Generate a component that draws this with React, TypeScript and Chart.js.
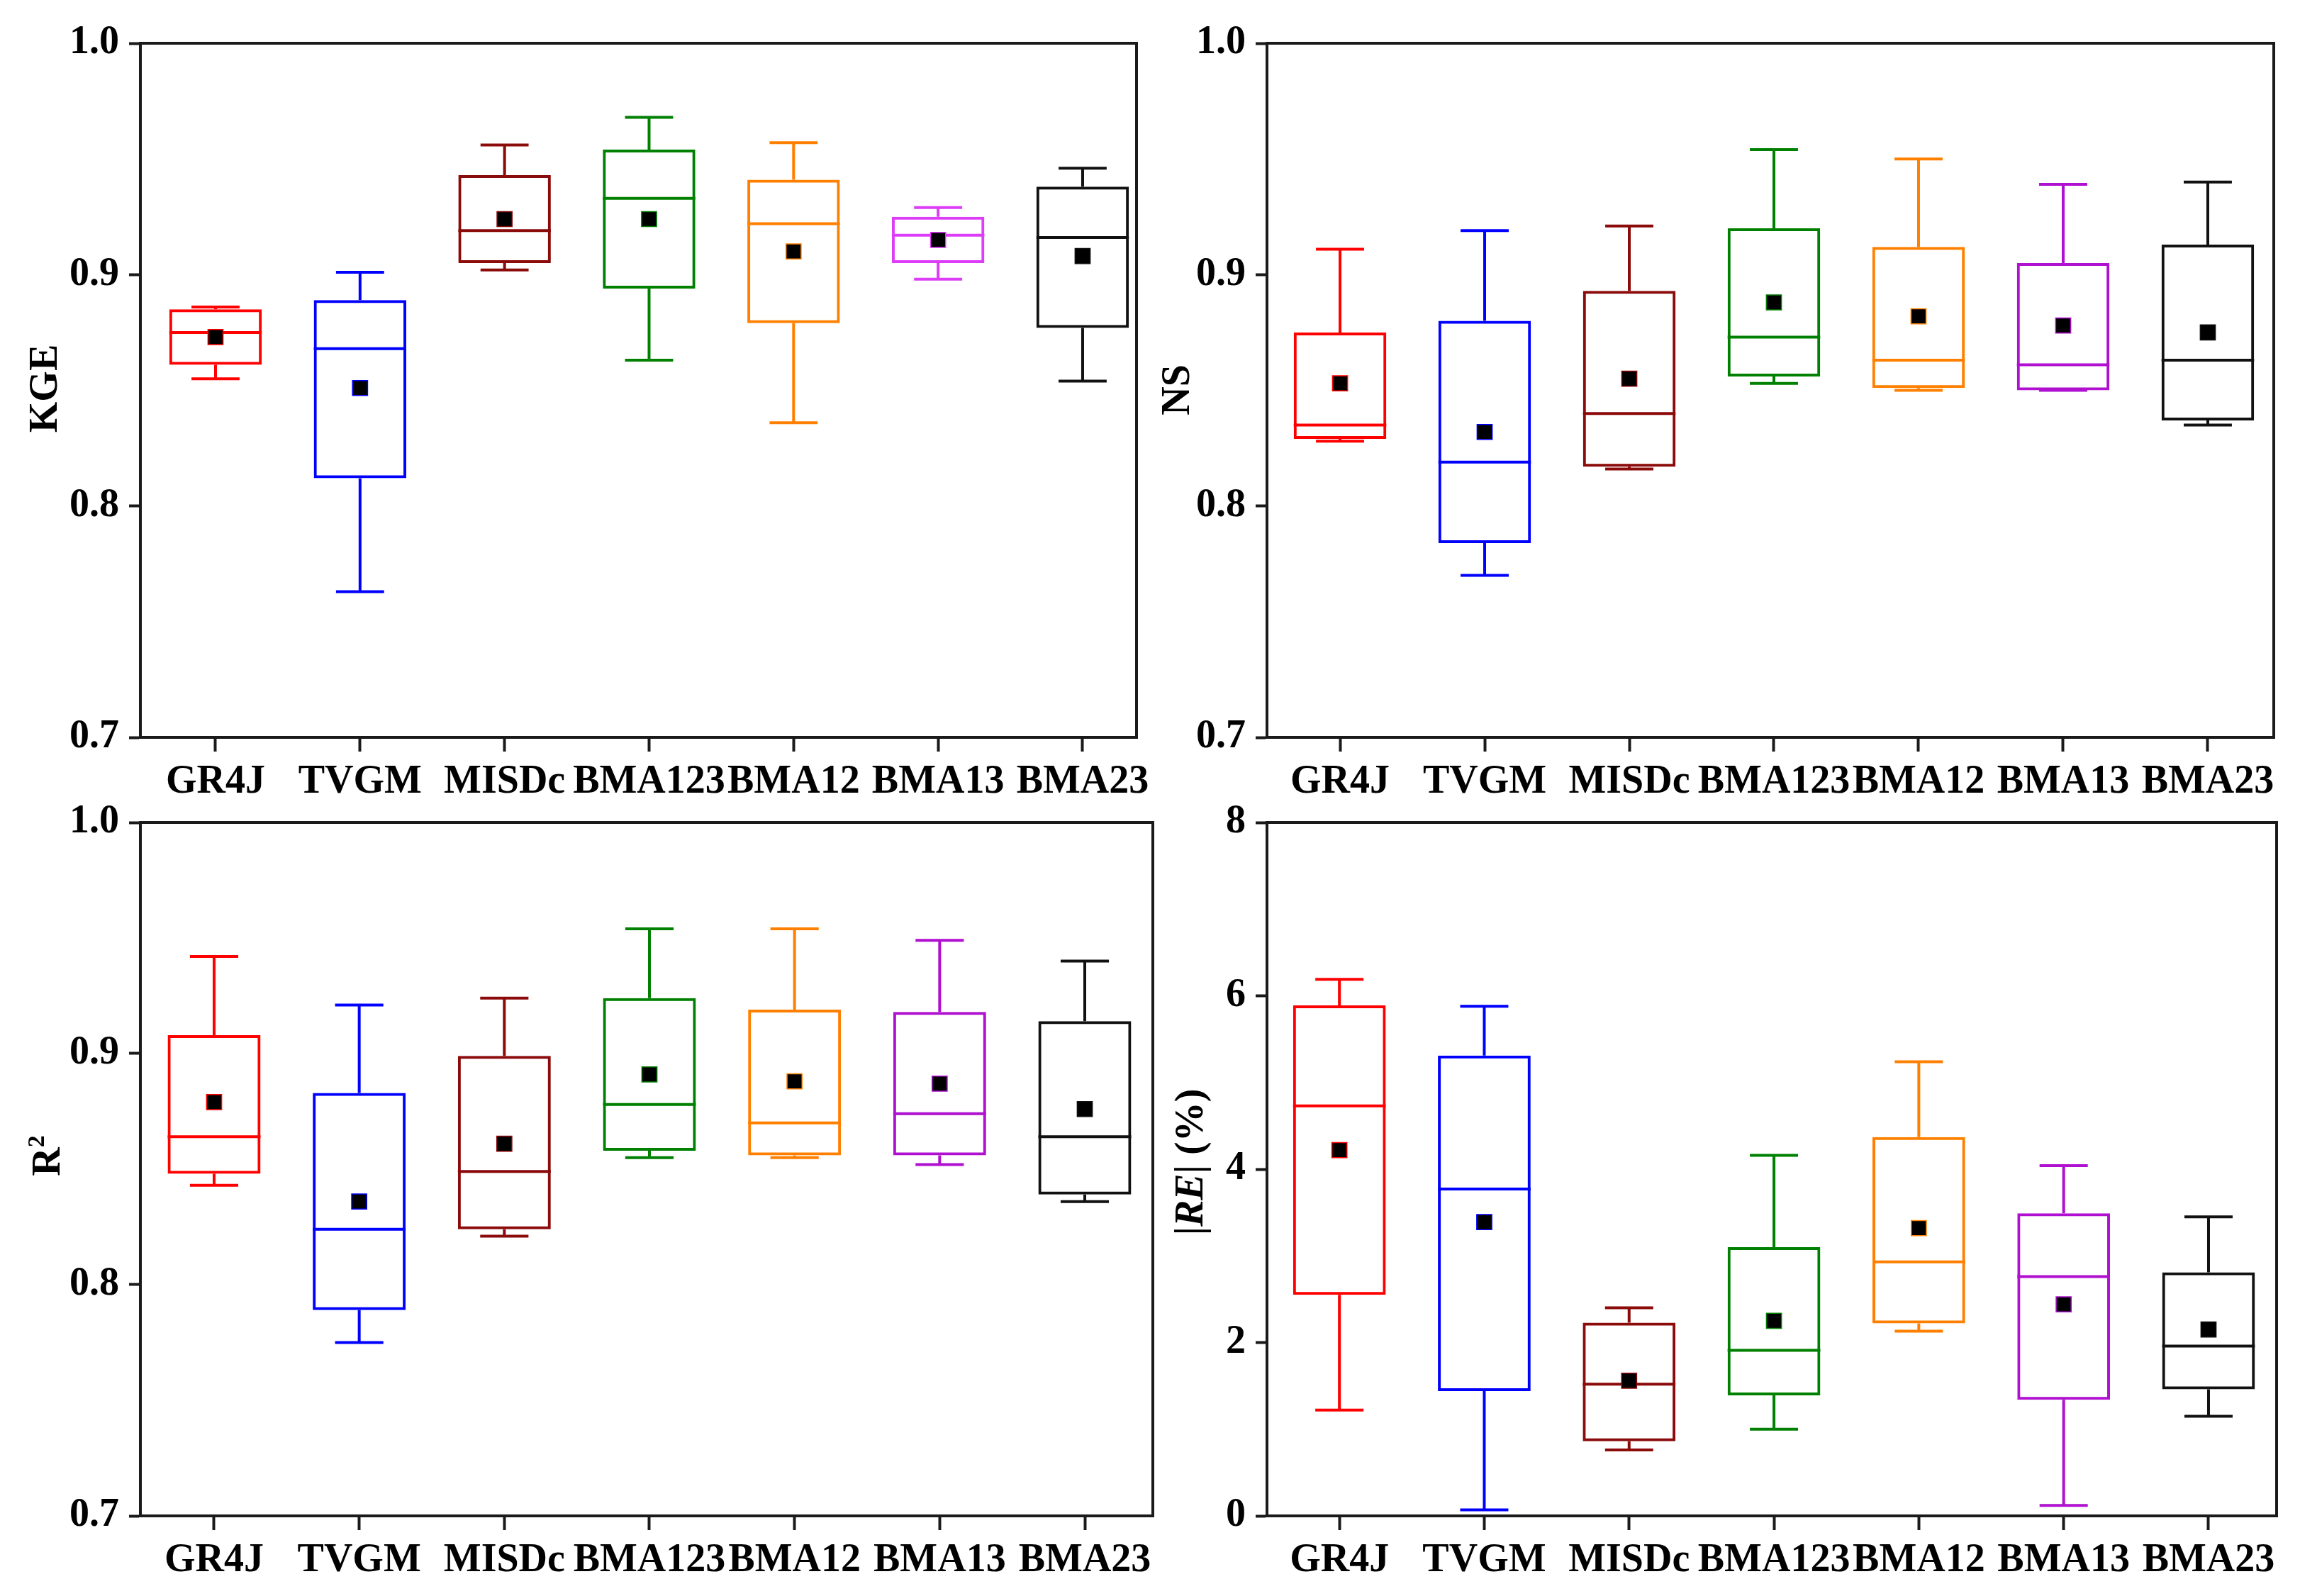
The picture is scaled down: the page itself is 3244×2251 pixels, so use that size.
import React, { useEffect, useRef } from 'react';
import { Chart, registerables } from 'chart.js';

Chart.register(...registerables);

// ---------- data ----------
const categories = ['GR4J', 'TVGM', 'MISDc', 'BMA123', 'BMA12', 'BMA13', 'BMA23'];

const colorsKGE = ['#FF0000', '#0000FF', '#8B0A0A', '#008000', '#FF8000', '#DD3CF8', '#111111'];
const colorsOther = ['#FF0000', '#0000FF', '#8B0A0A', '#008000', '#FF8000', '#B010D0', '#111111'];

const unitTicks = [0.7, 0.8, 0.9, 1.0];
const reTicks = [0, 2, 4, 6, 8];

const kgeMin = [0.855, 0.763, 0.902, 0.863, 0.836, 0.898, 0.854];
const kgeQ1 = [0.861, 0.812, 0.905, 0.894, 0.879, 0.905, 0.877];
const kgeMedian = [0.875, 0.868, 0.919, 0.933, 0.922, 0.917, 0.916];
const kgeQ3 = [0.885, 0.889, 0.943, 0.954, 0.941, 0.925, 0.938];
const kgeMax = [0.886, 0.901, 0.956, 0.968, 0.957, 0.929, 0.946];
const kgeMean = [0.873, 0.851, 0.924, 0.924, 0.910, 0.915, 0.908];

const nsMin = [0.828, 0.770, 0.816, 0.853, 0.850, 0.850, 0.835];
const nsQ1 = [0.829, 0.784, 0.817, 0.856, 0.851, 0.850, 0.837];
const nsMedian = [0.835, 0.819, 0.840, 0.873, 0.863, 0.861, 0.863];
const nsQ3 = [0.875, 0.880, 0.893, 0.920, 0.912, 0.905, 0.913];
const nsMax = [0.911, 0.919, 0.921, 0.954, 0.950, 0.939, 0.940];
const nsMean = [0.853, 0.832, 0.855, 0.888, 0.882, 0.878, 0.875];

const r2Min = [0.843, 0.775, 0.821, 0.855, 0.855, 0.852, 0.836];
const r2Q1 = [0.848, 0.789, 0.824, 0.858, 0.856, 0.856, 0.839];
const r2Median = [0.864, 0.824, 0.849, 0.878, 0.870, 0.874, 0.864];
const r2Q3 = [0.908, 0.883, 0.899, 0.924, 0.919, 0.918, 0.914];
const r2Max = [0.942, 0.921, 0.924, 0.954, 0.954, 0.949, 0.940];
const r2Mean = [0.879, 0.836, 0.861, 0.891, 0.888, 0.887, 0.876];

const reMin = [1.22, 0.07, 0.76, 1.0, 2.13, 0.12, 1.15];
const reQ1 = [2.55, 1.44, 0.86, 1.39, 2.22, 1.34, 1.46];
const reMedian = [4.73, 3.77, 1.52, 1.91, 2.93, 2.76, 1.96];
const reQ3 = [5.89, 5.31, 2.23, 3.1, 4.37, 3.49, 2.81];
const reMax = [6.19, 5.88, 2.4, 4.16, 5.24, 4.04, 3.45];
const reMean = [4.22, 3.39, 1.56, 2.25, 3.32, 2.44, 2.15];

// ---------- styling ----------
const FONT = '"Liberation Serif", "Times New Roman", serif';
const FONT_SIZE = 56;
const AXIS_COLOR = '#1a1a1a';
const AXIS_W = 4;
const LINE_W = 4;

type Part = { text: string; italic?: boolean; sup?: boolean };

interface PanelSpec {
  canvasX: number;
  canvasY: number;
  canvasW: number;
  canvasH: number;
  area: { left: number; top: number; right: number; bottom: number };
  xMin: number;
  xMax: number;
  yMin: number;
  yMax: number;
  yTicks: number[];
  decimals: number;
  title: Part[];
  titleX: number;
  titleY: number;
  min: number[];
  q1: number[];
  median: number[];
  q3: number[];
  max: number[];
  mean: number[];
  colors: string[];
}

const panels: PanelSpec[] = [
  {
    canvasX: 0, canvasY: 0, canvasW: 1660, canvasH: 1125,
    area: { left: 198, top: 61, right: 1603, bottom: 1040 },
    xMin: 0.48, xMax: 7.373, yMin: 0.7, yMax: 1.0, yTicks: unitTicks, decimals: 1,
    title: [{ text: 'KGE' }], titleX: 66, titleY: 548,
    min: kgeMin, q1: kgeQ1, median: kgeMedian, q3: kgeQ3, max: kgeMax, mean: kgeMean,
    colors: colorsKGE,
  },
  {
    canvasX: 1600, canvasY: 0, canvasW: 1644, canvasH: 1125,
    area: { left: 1787, top: 61, right: 3207, bottom: 1040 },
    xMin: 0.495, xMax: 7.456, yMin: 0.7, yMax: 1.0, yTicks: unitTicks, decimals: 1,
    title: [{ text: 'NS' }], titleX: 1663, titleY: 550,
    min: nsMin, q1: nsQ1, median: nsMedian, q3: nsQ3, max: nsMax, mean: nsMean,
    colors: colorsOther,
  },
  {
    canvasX: 0, canvasY: 1080, canvasW: 1660, canvasH: 1171,
    area: { left: 198, top: 1160, right: 1626, bottom: 2138 },
    xMin: 0.492, xMax: 7.469, yMin: 0.7, yMax: 1.0, yTicks: unitTicks, decimals: 1,
    title: [{ text: 'R' }, { text: '2', sup: true }], titleX: 70, titleY: 1630,
    min: r2Min, q1: r2Q1, median: r2Median, q3: r2Q3, max: r2Max, mean: r2Mean,
    colors: colorsOther,
  },
  {
    canvasX: 1600, canvasY: 1080, canvasW: 1644, canvasH: 1171,
    area: { left: 1787, top: 1160, right: 3211, bottom: 2138 },
    xMin: 0.5, xMax: 7.47, yMin: 0, yMax: 8, yTicks: reTicks, decimals: 0,
    title: [{ text: '|' }, { text: 'RE', italic: true }, { text: '| (%)' }], titleX: 1682, titleY: 1639,
    min: reMin, q1: reQ1, median: reMedian, q3: reQ3, max: reMax, mean: reMean,
    colors: colorsOther,
  },
];

function partFont(p: Part) {
  const size = p.sup ? Math.round(FONT_SIZE * 0.6) : FONT_SIZE;
  return `${p.italic ? 'italic ' : ''}bold ${size}px ${FONT}`;
}

function Panel({ spec }: { spec: PanelSpec }) {
  const ref = useRef<HTMLCanvasElement>(null);

  useEffect(() => {
    const s = spec;
    const canvas = ref.current;
    if (!canvas) return;
    const yAxisW = s.area.left - s.canvasX;
    const xAxisH = s.canvasY + s.canvasH - s.area.bottom;

    const boxPlugin = {
      id: 'boxWhiskers',
      beforeDatasetsDraw(chart: any) {
        const { ctx, scales } = chart;
        const meta = chart.getDatasetMeta(1);
        const ys = scales.y;
        ctx.save();
        ctx.lineWidth = LINE_W;
        ctx.lineCap = 'butt';
        categories.forEach((_, i) => {
          const el = meta.data[i];
          if (!el) return;
          const cx = el.x;
          const bw = el.width;
          const capHalf = bw * 0.26;
          const yMin = ys.getPixelForValue(s.min[i]);
          const yQ1 = ys.getPixelForValue(s.q1[i]);
          const yMed = ys.getPixelForValue(s.median[i]);
          const yQ3 = ys.getPixelForValue(s.q3[i]);
          const yMax = ys.getPixelForValue(s.max[i]);
          ctx.strokeStyle = s.colors[i];
          ctx.beginPath();
          ctx.moveTo(cx, yQ3);
          ctx.lineTo(cx, yMax);
          ctx.moveTo(cx - capHalf, yMax);
          ctx.lineTo(cx + capHalf, yMax);
          ctx.moveTo(cx, yQ1);
          ctx.lineTo(cx, yMin);
          ctx.moveTo(cx - capHalf, yMin);
          ctx.lineTo(cx + capHalf, yMin);
          ctx.moveTo(cx - bw / 2, yMed);
          ctx.lineTo(cx + bw / 2, yMed);
          ctx.stroke();
        });
        ctx.restore();
      },
      afterDraw(chart: any) {
        const { ctx, chartArea } = chart;
        ctx.save();
        ctx.strokeStyle = AXIS_COLOR;
        ctx.lineWidth = AXIS_W;
        ctx.beginPath();
        ctx.moveTo(chartArea.left - AXIS_W / 2, chartArea.top);
        ctx.lineTo(chartArea.right, chartArea.top);
        ctx.lineTo(chartArea.right, chartArea.bottom + AXIS_W / 2);
        ctx.stroke();

        ctx.translate(s.titleX - s.canvasX, s.titleY - s.canvasY);
        ctx.rotate(-Math.PI / 2);
        ctx.fillStyle = '#000';
        ctx.textBaseline = 'middle';
        ctx.textAlign = 'left';
        let total = 0;
        const widths = s.title.map((p) => {
          ctx.font = partFont(p);
          const w = ctx.measureText(p.text).width;
          total += w;
          return w;
        });
        let x = -total / 2;
        s.title.forEach((p, i) => {
          ctx.font = partFont(p);
          const dy = p.sup ? -FONT_SIZE * 0.3 : 0;
          ctx.fillText(p.text, x, dy);
          x += widths[i];
        });
        ctx.restore();
      },
    };

    const tickFont = { family: FONT, size: FONT_SIZE, weight: 'bold' as const };

    const chart = new Chart(canvas, {
      type: 'bar',
      data: {
        datasets: [
          {
            type: 'scatter',
            order: 0,
            data: categories.map((_, i) => ({ x: i + 1, y: s.mean[i] })),
            pointStyle: 'rect',
            pointRadius: 15,
            pointHoverRadius: 15,
            backgroundColor: '#000000',
            borderColor: s.colors,
            borderWidth: 1.5,
          } as any,
          {
            type: 'bar',
            order: 1,
            data: categories.map((_, i) => ({ x: i + 1, y: [s.q1[i], s.q3[i]] })),
            backgroundColor: 'rgba(0,0,0,0)',
            borderColor: s.colors,
            borderWidth: LINE_W,
            borderSkipped: false,
            barPercentage: 0.64,
            categoryPercentage: 1,
            grouped: false,
          } as any,
        ],
      },
      options: {
        animation: false,
        responsive: false,
        maintainAspectRatio: false,
        events: [],
        layout: {
          padding: {
            top: s.area.top - s.canvasY,
            right: s.canvasX + s.canvasW - s.area.right,
            left: 0,
            bottom: 0,
          },
        },
        plugins: {
          legend: { display: false },
          tooltip: { enabled: false },
        },
        scales: {
          x: {
            type: 'linear',
            min: s.xMin,
            max: s.xMax,
            offset: false,
            afterBuildTicks: (scale: any) => {
              scale.ticks = categories.map((_, i) => ({ value: i + 1 }));
            },
            afterFit: (scale: any) => {
              scale.height = xAxisH;
            },
            ticks: {
              autoSkip: false,
              maxRotation: 0,
              minRotation: 0,
              padding: 10,
              color: '#000',
              font: tickFont,
              callback: (v: any) => categories[Math.round(Number(v)) - 1] ?? '',
            },
            grid: {
              offset: false,
              drawOnChartArea: false,
              drawTicks: true,
              tickLength: 20,
              tickWidth: AXIS_W,
              tickColor: AXIS_COLOR,
            },
            border: { display: true, color: AXIS_COLOR, width: AXIS_W },
          },
          y: {
            type: 'linear',
            min: s.yMin,
            max: s.yMax,
            afterBuildTicks: (scale: any) => {
              scale.ticks = s.yTicks.map((v) => ({ value: v }));
            },
            afterFit: (scale: any) => {
              scale.width = yAxisW;
            },
            ticks: {
              padding: 14,
              color: '#000',
              font: tickFont,
              callback: (v: any) => Number(v).toFixed(s.decimals),
            },
            grid: {
              offset: false,
              drawOnChartArea: false,
              drawTicks: true,
              tickLength: 16,
              tickWidth: AXIS_W,
              tickColor: AXIS_COLOR,
            },
            border: { display: true, color: AXIS_COLOR, width: AXIS_W },
          },
        },
      } as any,
      plugins: [boxPlugin],
    });

    return () => chart.destroy();
  }, [spec]);

  return (
    <canvas
      ref={ref}
      width={spec.canvasW}
      height={spec.canvasH}
      style={{
        position: 'absolute',
        left: spec.canvasX,
        top: spec.canvasY,
        width: spec.canvasW,
        height: spec.canvasH,
      }}
    />
  );
}

export default function App() {
  return (
    <div
      style={{
        position: 'fixed',
        left: 0,
        top: 0,
        width: 3244,
        height: 2251,
        background: '#ffffff',
        overflow: 'hidden',
      }}
    >
      {panels.map((p, i) => (
        <Panel key={i} spec={p} />
      ))}
    </div>
  );
}
